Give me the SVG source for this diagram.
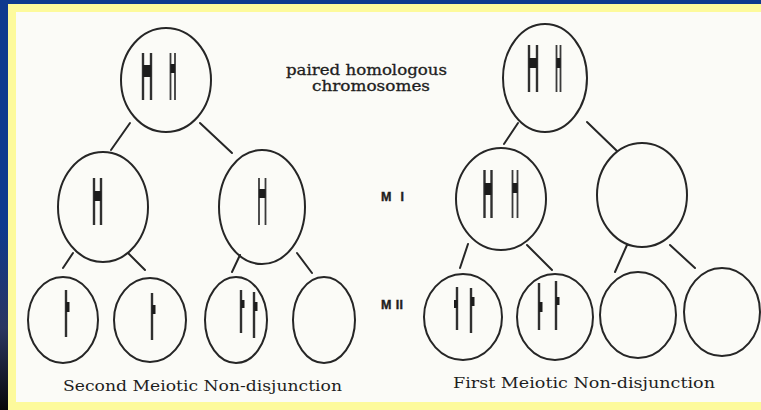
<svg xmlns="http://www.w3.org/2000/svg" width="761" height="410" viewBox="0 0 761 410">
  <defs>
    <linearGradient id="sideband" x1="0" y1="0" x2="0" y2="1">
      <stop offset="0" stop-color="#0e3a8e"/>
      <stop offset="0.55" stop-color="#0e3a8e"/>
      <stop offset="0.8" stop-color="#2a3560"/>
      <stop offset="1" stop-color="#080808"/>
    </linearGradient>
    <style>
      .cell { fill: none; stroke: #262626; stroke-width: 2; }
      .link { stroke: #262626; stroke-width: 2; stroke-linecap: round; }
      .arm { stroke: #303030; stroke-width: 2.4; }
      .arm-thin { stroke: #3a3a3a; stroke-width: 1.8; }
      .cen { fill: #1c1c1c; }
      .label { font-family: "DejaVu Serif", "Liberation Serif", serif; font-size: 14.5px; fill: #1e1e1e; stroke: #1e1e1e; stroke-width: 0.3; }
      .stage { font-family: "Liberation Sans", Arial, sans-serif; font-size: 12.5px; font-weight: bold; fill: #1e1e1e; stroke: #1e1e1e; stroke-width: 0.4; }
      .caption { font-family: "DejaVu Serif", "Liberation Serif", serif; font-size: 15px; fill: #1e1e1e; }
    </style>
  </defs>

  <!-- frame -->
  <rect x="0" y="0" width="761" height="410" fill="#0e3a8e"/>
  <rect x="0" y="0" width="8" height="410" fill="url(#sideband)"/>
  <rect x="8" y="4" width="753" height="406" fill="#fdfa9c"/>
  <rect x="16" y="12" width="745" height="390" fill="#fbfbf7"/>

  <!-- connectors -->
  <g id="connectors">
    <line class="link" x1="130" y1="123" x2="111" y2="150"/>
    <line class="link" x1="200" y1="123" x2="232" y2="153"/>
    <line class="link" x1="73" y1="253" x2="63" y2="268"/>
    <line class="link" x1="128" y1="253" x2="145" y2="270"/>
    <line class="link" x1="240" y1="255" x2="232" y2="272"/>
    <line class="link" x1="297" y1="253" x2="312" y2="273"/>
    <line class="link" x1="518" y1="123" x2="504" y2="144"/>
    <line class="link" x1="587" y1="122" x2="617" y2="151"/>
    <line class="link" x1="468" y1="244" x2="460" y2="268"/>
    <line class="link" x1="527" y1="245" x2="552" y2="270"/>
    <line class="link" x1="627" y1="245" x2="615" y2="272"/>
    <line class="link" x1="670" y1="245" x2="695" y2="268"/>
  </g>

  <!-- second meiotic non-disjunction tree -->
  <g id="left-parent">
    <ellipse class="cell" cx="166" cy="80" rx="45" ry="52"/>
    <line class="arm" x1="143" y1="53" x2="143" y2="100"/>
    <line class="arm" x1="151" y1="53" x2="151" y2="100"/>
    <rect class="cen" x="143" y="65" width="8" height="12"/>
    <line class="arm-thin" x1="170.5" y1="53" x2="170.5" y2="100"/>
    <line class="arm-thin" x1="175" y1="53" x2="175" y2="100"/>
    <rect class="cen" x="170.5" y="64" width="4.5" height="9"/>
  </g>
  <g id="left-mi-a">
    <ellipse class="cell" cx="103" cy="207" rx="45" ry="55"/>
    <line class="arm" x1="94" y1="178" x2="94" y2="225"/>
    <line class="arm" x1="101" y1="178" x2="101" y2="225"/>
    <rect class="cen" x="94" y="191" width="7" height="10"/>
  </g>
  <g id="left-mi-b">
    <ellipse class="cell" cx="262" cy="207" rx="43" ry="57"/>
    <line class="arm-thin" x1="259" y1="178" x2="259" y2="225"/>
    <line class="arm-thin" x1="265.5" y1="178" x2="265.5" y2="225"/>
    <rect class="cen" x="259" y="189" width="6.5" height="9"/>
  </g>
  <g id="left-mii-1">
    <ellipse class="cell" cx="63" cy="320" rx="35" ry="43"/>
    <line class="arm" x1="66" y1="290" x2="66" y2="337"/>
    <rect class="cen" x="66" y="302" width="3.5" height="10"/>
  </g>
  <g id="left-mii-2">
    <ellipse class="cell" cx="150" cy="320" rx="36" ry="42"/>
    <line class="arm" x1="152" y1="293" x2="152" y2="340"/>
    <rect class="cen" x="152" y="305" width="3.5" height="9"/>
  </g>
  <g id="left-mii-3">
    <ellipse class="cell" cx="236" cy="320" rx="31" ry="43"/>
    <line class="arm" x1="241" y1="290" x2="241" y2="333"/>
    <rect class="cen" x="241" y="300" width="3.5" height="8"/>
    <line class="arm" x1="254" y1="292" x2="254" y2="338"/>
    <rect class="cen" x="254" y="302" width="3.5" height="9"/>
  </g>
  <g id="left-mii-4">
    <ellipse class="cell" cx="324" cy="320" rx="31" ry="43"/>
  </g>

  <!-- first meiotic non-disjunction tree -->
  <g id="right-parent">
    <ellipse class="cell" cx="545" cy="78" rx="42" ry="54"/>
    <line class="arm" x1="529" y1="45" x2="529" y2="92"/>
    <line class="arm" x1="537" y1="45" x2="537" y2="92"/>
    <rect class="cen" x="529" y="58" width="8" height="10"/>
    <line class="arm-thin" x1="556.5" y1="45" x2="556.5" y2="92"/>
    <line class="arm-thin" x1="560.5" y1="45" x2="560.5" y2="92"/>
    <rect class="cen" x="556.5" y="58" width="4" height="10"/>
  </g>
  <g id="right-mi-a">
    <ellipse class="cell" cx="501" cy="199" rx="45" ry="51"/>
    <line class="arm" x1="484.5" y1="170" x2="484.5" y2="218"/>
    <line class="arm" x1="491.5" y1="170" x2="491.5" y2="218"/>
    <rect class="cen" x="484.5" y="183" width="7" height="12"/>
    <line class="arm-thin" x1="512.5" y1="170" x2="512.5" y2="218"/>
    <line class="arm-thin" x1="517.5" y1="170" x2="517.5" y2="218"/>
    <rect class="cen" x="512.5" y="183" width="5" height="10"/>
  </g>
  <g id="right-mi-b">
    <ellipse class="cell" cx="642" cy="195" rx="45" ry="52"/>
  </g>
  <g id="right-mii-1">
    <ellipse class="cell" cx="463" cy="317" rx="39" ry="43"/>
    <line class="arm" x1="457" y1="287" x2="457" y2="330"/>
    <rect class="cen" x="454" y="300" width="3.5" height="8"/>
    <line class="arm" x1="471" y1="288" x2="471" y2="333"/>
    <rect class="cen" x="471" y="297" width="3.5" height="9"/>
  </g>
  <g id="right-mii-2">
    <ellipse class="cell" cx="555" cy="317" rx="38" ry="43"/>
    <line class="arm" x1="539" y1="283" x2="539" y2="330"/>
    <rect class="cen" x="539" y="302" width="3.5" height="10"/>
    <line class="arm" x1="556" y1="281" x2="556" y2="330"/>
    <rect class="cen" x="556" y="297" width="3.5" height="8"/>
  </g>
  <g id="right-mii-3">
    <ellipse class="cell" cx="638" cy="315" rx="38" ry="43"/>
  </g>
  <g id="right-mii-4">
    <ellipse class="cell" cx="722" cy="312" rx="38" ry="44"/>
  </g>

  <!-- labels -->
  <g id="labels">
    <text class="label" x="286" y="75" textLength="161" lengthAdjust="spacingAndGlyphs">paired homologous</text>
    <text class="label" x="312" y="91" textLength="118" lengthAdjust="spacingAndGlyphs">chromosomes</text>
    <text class="stage" x="381" y="201" textLength="23" lengthAdjust="spacing">M I</text>
    <text class="stage" x="381" y="309" textLength="22" lengthAdjust="spacing">M II</text>
    <text class="caption" x="63" y="391" textLength="279" lengthAdjust="spacingAndGlyphs">Second Meiotic Non-disjunction</text>
    <text class="caption" x="453" y="388" textLength="262" lengthAdjust="spacingAndGlyphs">First Meiotic Non-disjunction</text>
  </g>
</svg>
